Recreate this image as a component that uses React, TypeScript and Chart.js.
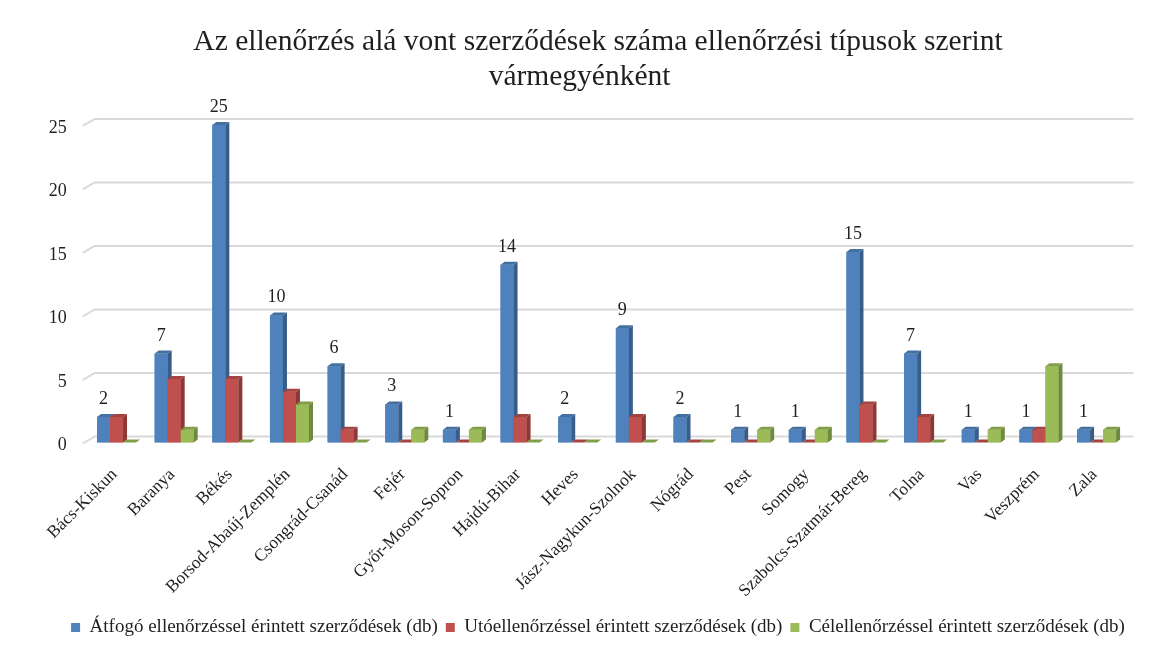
import React, { useEffect, useRef } from "react";
import { Chart, registerables } from "chart.js";

Chart.register(...registerables);

const titleLines = [
  "Az ellenőrzés alá vont szerződések száma ellenőrzési típusok szerint",
  "vármegyénként     ",
];

const categories = [
  "Bács-Kiskun",
  "Baranya",
  "Békés",
  "Borsod-Abaúj-Zemplén",
  "Csongrád-Csanád",
  "Fejér",
  "Győr-Moson-Sopron",
  "Hajdú-Bihar",
  "Heves",
  "Jász-Nagykun-Szolnok",
  "Nógrád",
  "Pest",
  "Somogy",
  "Szabolcs-Szatmár-Bereg",
  "Tolna",
  "Vas",
  "Veszprém",
  "Zala",
];

const seriesNames = [
  "Átfogó ellenőrzéssel érintett szerződések (db)",
  "Utóellenőrzéssel érintett szerződések (db)",
  "Célellenőrzéssel érintett szerződések (db)",
];

const atfogo = [2, 7, 25, 10, 6, 3, 1, 14, 2, 9, 2, 1, 1, 15, 7, 1, 1, 1];
const utoellenorzes = [2, 5, 5, 4, 1, 0, 0, 2, 0, 2, 0, 0, 0, 3, 2, 0, 1, 0];
const celellenorzes = [0, 1, 0, 3, 0, 1, 1, 0, 0, 0, 0, 1, 1, 0, 0, 1, 6, 1];

const yTicks = [0, 5, 10, 15, 20, 25];

const frontColors = ["#4f81bd", "#c0504d", "#9bbb59"];
const sideColors = ["#385d8a", "#8c3836", "#71893f"];
const topColors = ["#44709f", "#a34441", "#809e48"];

const FONT = "'Liberation Serif', 'Times New Roman', serif";
const TEXT = "#1f1f1f";
const DX = 4;
const DY = 3;

const wallPlugin = {
  id: "wall",
  beforeDatasetsDraw(chart: any) {
    const { ctx, chartArea, scales } = chart;
    const y = scales.y;
    ctx.save();
    ctx.strokeStyle = "#d9d9d9";
    ctx.lineWidth = 2;
    for (const v of yTicks) {
      const py = y.getPixelForValue(v);
      ctx.beginPath();
      ctx.moveTo(chartArea.left - 5, py + 1);
      ctx.lineTo(chartArea.left + 7, py - 6);
      ctx.lineTo(chartArea.right + 8, py - 6);
      ctx.stroke();
    }
    ctx.restore();
  },
};

const bars3dPlugin = {
  id: "bars3d",
  afterDatasetsDraw(chart: any) {
    const { ctx } = chart;
    const metas = [0, 1, 2].map((i) => chart.getDatasetMeta(i));
    ctx.save();
    for (let j = 0; j < categories.length; j++) {
      for (let d = 0; d < metas.length; d++) {
        const el = metas[d].data[j];
        if (!el) continue;
        const { x, y, base, width } = el.getProps(["x", "y", "base", "width"], true);
        const l = x - width / 2;
        const r = x + width / 2;
        ctx.fillStyle = frontColors[d];
        ctx.fillRect(l, y, width, base - y);
        ctx.fillStyle = sideColors[d];
        ctx.beginPath();
        ctx.moveTo(r, y);
        ctx.lineTo(r + DX, y - DY);
        ctx.lineTo(r + DX, base - DY);
        ctx.lineTo(r, base);
        ctx.closePath();
        ctx.fill();
        ctx.fillStyle = topColors[d];
        ctx.beginPath();
        ctx.moveTo(l, y);
        ctx.lineTo(l + DX, y - DY);
        ctx.lineTo(r + DX, y - DY);
        ctx.lineTo(r, y);
        ctx.closePath();
        ctx.fill();
      }
    }
    ctx.restore();
  },
};

const valueLabelPlugin = {
  id: "valueLabels",
  afterDatasetsDraw(chart: any) {
    const { ctx } = chart;
    const meta = chart.getDatasetMeta(0);
    ctx.save();
    ctx.font = `18px ${FONT}`;
    ctx.fillStyle = TEXT;
    ctx.textAlign = "center";
    ctx.textBaseline = "alphabetic";
    meta.data.forEach((el: any, i: number) => {
      const { x, y } = el.getProps(["x", "y"], true);
      ctx.fillText(String(atfogo[i]), x, y - 13);
    });
    ctx.restore();
  },
};

export default function App() {
  const canvasRef = useRef<HTMLCanvasElement | null>(null);

  useEffect(() => {
    if (!canvasRef.current) return;
    const chart = new Chart(canvasRef.current, {
      type: "bar",
      data: {
        labels: categories,
        datasets: [
          { label: seriesNames[0], data: atfogo, backgroundColor: frontColors[0] },
          { label: seriesNames[1], data: utoellenorzes, backgroundColor: frontColors[1] },
          { label: seriesNames[2], data: celellenorzes, backgroundColor: frontColors[2] },
        ],
      },
      options: {
        responsive: false,
        animation: false,
        layout: { padding: { left: 0, right: 0, top: 0, bottom: 0 } },
        datasets: {
          bar: { categoryPercentage: 0.677, barPercentage: 1 },
        },
        scales: {
          x: {
            grid: { display: false, drawTicks: false },
            border: { display: false },
            ticks: {
              autoSkip: false,
              minRotation: 45,
              maxRotation: 45,
              padding: 22,
              labelOffset: -2,
              color: TEXT,
              font: { family: FONT, size: 17.5 },
            },
            afterFit: (s: any) => {
              s.height = 167.5;
            },
          },
          y: {
            min: 0,
            max: 25,
            grid: { display: false, drawTicks: false },
            border: { display: false },
            ticks: {
              stepSize: 5,
              padding: 21,
              labelOffset: 3,
              color: TEXT,
              font: { family: FONT, size: 18 },
            },
            afterFit: (s: any) => {
              s.width = 79.7;
            },
          },
          yRight: {
            position: "right",
            min: 0,
            max: 25,
            grid: { display: false, drawTicks: false },
            border: { display: false },
            ticks: { display: false },
            afterFit: (s: any) => {
              s.width = 62.6;
            },
          },
        },
        plugins: {
          title: {
            display: true,
            text: titleLines,
            color: TEXT,
            font: { family: FONT, size: 29.5, weight: "normal", lineHeight: 1.186 },
            padding: { top: 16.5, bottom: 30.5 },
          },
          legend: {
            position: "bottom",
            labels: {
              boxWidth: 9,
              boxHeight: 9,
              padding: 8,
              color: TEXT,
              font: { family: FONT, size: 19 },
            },
          },
          tooltip: { enabled: false },
        },
      },
      plugins: [wallPlugin, bars3dPlugin, valueLabelPlugin],
    } as any);
    return () => chart.destroy();
  }, []);

  return (
    <div
      style={{
        marginLeft: -2,
        marginTop: -2,
        borderTop: "2px solid #d9d9d9",
        borderLeft: "2px solid #d9d9d9",
        width: 1155,
        height: 639,
        overflow: "hidden",
      }}
    >
      <canvas ref={canvasRef} width={1180} height={639} style={{ display: "block" }} />
    </div>
  );
}
